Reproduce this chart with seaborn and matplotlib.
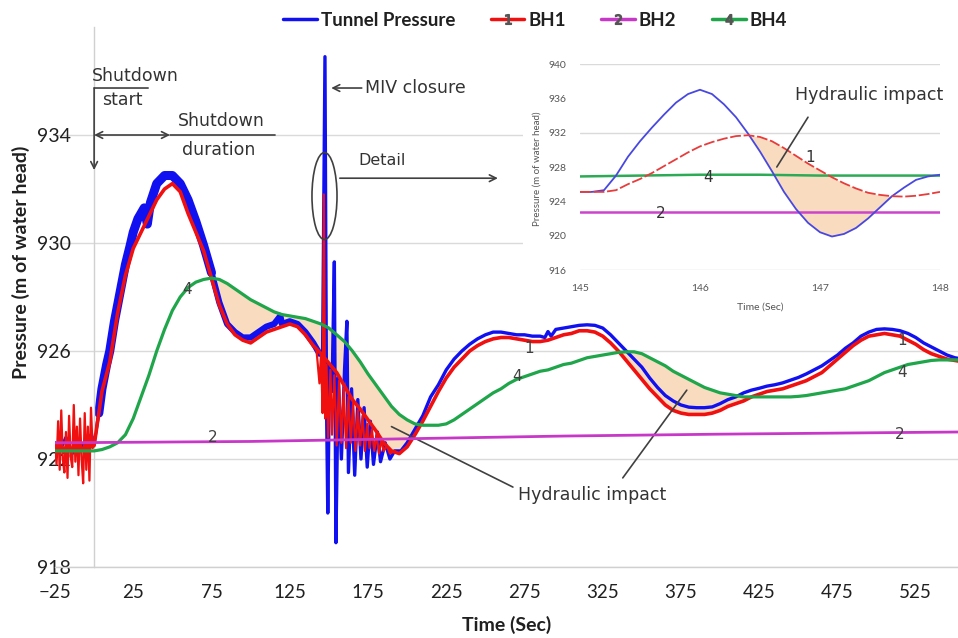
import numpy as np
import matplotlib
matplotlib.use("Agg")
import matplotlib.pyplot as plt
from matplotlib.lines import Line2D
from matplotlib.patches import Ellipse, Rectangle
import seaborn as sns

# ---- data ------------------------------------------------------------------
# common 5 s time base for the smooth borehole traces
t_grid = list(range(-25, 560, 5))

bh1 = [922.4, 922.4, 922.4, 922.4, 922.4, 922.5, 924.5, 925.6, 927.4, 928.8,
       929.8, 930.4, 931.0, 931.6, 932.0, 932.2, 931.9, 931.1, 930.4, 929.7,
       928.7, 927.7, 927.0, 926.6, 926.4, 926.3, 926.5, 926.7, 926.8, 926.9,
       927.0, 926.9, 926.6, 926.2, 925.9, 925.55, 925.2, 924.7, 924.2, 923.85,
       923.45, 923.05, 922.6, 922.3, 922.2, 922.45, 922.9, 923.4, 923.95, 924.5,
       925.0, 925.4, 925.7, 926.0, 926.2, 926.35, 926.45, 926.5, 926.5, 926.45,
       926.4, 926.35, 926.35, 926.4, 926.5, 926.6, 926.65, 926.75, 926.75, 926.7,
       926.55, 926.3, 926.0, 925.65, 925.3, 924.95, 924.6, 924.3, 924.0, 923.8,
       923.7, 923.65, 923.65, 923.65, 923.7, 923.8, 923.95, 924.05, 924.15, 924.3,
       924.4, 924.5, 924.55, 924.6, 924.7, 924.8, 924.9, 925.05, 925.2, 925.45,
       925.7, 925.95, 926.2, 926.4, 926.55, 926.6, 926.65, 926.6, 926.55, 926.4,
       926.25, 926.05, 925.9, 925.8, 925.7, 925.65, 925.6]

bh4 = [922.3, 922.3, 922.3, 922.3, 922.3, 922.3, 922.35, 922.45, 922.6, 922.9,
       923.5, 924.3, 925.1, 926.0, 926.8, 927.5, 928.0, 928.35, 928.55, 928.65,
       928.7, 928.65, 928.5, 928.3, 928.1, 927.9, 927.75, 927.6, 927.45, 927.35,
       927.3, 927.25, 927.2, 927.1, 927.0, 926.85, 926.6, 926.35, 926.0, 925.6,
       925.15, 924.75, 924.35, 923.95, 923.65, 923.45, 923.3, 923.25, 923.25, 923.25,
       923.3, 923.45, 923.65, 923.85, 924.05, 924.25, 924.45, 924.6, 924.8, 924.95,
       925.05, 925.15, 925.25, 925.3, 925.4, 925.5, 925.55, 925.65, 925.75, 925.8,
       925.85, 925.9, 925.95, 925.97, 925.97, 925.9, 925.75, 925.6, 925.45, 925.25,
       925.1, 924.95, 924.8, 924.65, 924.55, 924.45, 924.4, 924.35, 924.3, 924.3,
       924.3, 924.3, 924.3, 924.3, 924.3, 924.32, 924.35, 924.4, 924.45, 924.5,
       924.55, 924.6, 924.7, 924.8, 924.9, 925.05, 925.2, 925.3, 925.4, 925.5,
       925.55, 925.6, 925.65, 925.67, 925.67, 925.67, 925.67]

bh2 = [(-25, 922.6), (100, 922.65), (200, 922.75), (300, 922.85), (400, 922.92), (552, 923.0)]

# red scatter before shutdown and after the MIV closure
bh1_noise_pre = [(-25, 922.6), (-24, 921.8), (-23, 923.4), (-22, 921.6), (-21, 923.8), (-20, 922.0),
                 (-19, 921.5), (-18, 923.0), (-17, 921.3), (-16, 923.6), (-15, 922.1), (-14, 921.7),
                 (-13, 924.0), (-12, 921.9), (-11, 923.2), (-10, 921.4), (-9, 923.5), (-8, 922.0),
                 (-7, 921.1), (-6, 923.7), (-5, 921.6), (-4, 923.2), (-3, 921.2), (-2, 923.9),
                 (-1, 922.4), (0, 922.5)]
bh1_noise_miv = [(142, 926.1), (144, 924.8), (145, 925.9), (146, 923.7), (146.8, 931.8), (147.6, 923.5),
                 (148.5, 925.5), (149.5, 922.8), (151, 925.3), (152, 922.9), (153.5, 925.1), (155, 922.5),
                 (156.5, 924.9), (158, 922.6), (159.5, 924.6), (161, 922.4), (162.5, 924.3), (164, 922.6),
                 (165.5, 924.1), (167, 922.3), (168.5, 923.8), (170, 922.5), (171.5, 923.6), (173, 922.3),
                 (174.5, 923.3), (176, 922.4), (177.5, 923.1), (179, 922.3), (180.5, 922.9), (182, 922.2),
                 (183.5, 922.7), (185, 922.3), (187, 922.5), (189, 922.2), (192, 922.3)]

tunnel = [(-25, 922.6), (-22, 922.3), (-18, 922.8), (-14, 922.2), (-10, 922.7), (-6, 922.3),
          (-2, 922.9), (0, 922.6), (3, 923.7), (5, 924.6), (8, 925.5), (10, 926.0), (13, 927.1),
          (15, 927.7), (18, 928.6), (20, 929.2), (23, 929.9), (25, 930.4), (28, 930.9), (30, 931.1),
          (32, 931.3), (34, 930.7), (36, 931.5), (40, 932.2), (45, 932.5), (50, 932.5), (55, 932.2),
          (60, 931.6), (65, 930.8), (70, 929.9), (75, 928.9), (80, 927.8), (85, 927.0), (90, 926.7),
          (95, 926.5), (100, 926.5), (105, 926.7), (110, 926.9), (115, 927.0), (119, 927.3),
          (120, 927.0), (125, 927.1), (130, 927.0), (135, 926.7), (140, 926.3), (144, 925.9),
          (146, 926.0), (147.5, 936.9), (148.5, 924.0), (149.3, 920.0), (150.5, 925.5), (152, 924.5),
          (153.5, 929.3), (154.5, 918.9), (156, 925.0), (158, 922.0), (160, 925.3), (161.5, 927.1),
          (162.5, 921.5), (164.5, 924.6), (166.5, 921.4), (168.5, 924.2), (170.5, 922.0),
          (172.5, 923.9), (174.5, 921.7), (176.5, 923.4), (178.5, 921.8), (181, 923.0), (183, 921.9),
          (186, 922.6), (189, 922.0), (192, 922.3), (196, 922.3), (200, 922.6), (205, 923.1),
          (210, 923.6), (215, 924.3), (220, 924.75), (225, 925.3), (230, 925.7), (235, 926.0),
          (240, 926.25), (245, 926.45), (250, 926.6), (255, 926.7), (260, 926.7), (265, 926.65),
          (270, 926.6), (275, 926.6), (280, 926.55), (285, 926.55), (288, 926.5), (290, 926.72),
          (292, 926.55), (295, 926.8), (300, 926.85), (305, 926.9), (310, 926.95), (315, 926.97),
          (320, 926.95), (325, 926.85), (330, 926.6), (335, 926.3), (340, 926.0), (345, 925.7),
          (350, 925.4), (355, 925.0), (360, 924.65), (365, 924.35), (370, 924.15), (375, 924.0),
          (380, 923.92), (385, 923.9), (390, 923.9), (395, 923.93), (400, 924.05), (405, 924.2),
          (410, 924.3), (415, 924.45), (420, 924.55), (425, 924.62), (430, 924.7), (435, 924.75),
          (440, 924.82), (445, 924.92), (450, 925.02), (455, 925.15), (460, 925.3), (465, 925.45),
          (470, 925.65), (475, 925.85), (480, 926.1), (485, 926.3), (490, 926.55), (495, 926.7),
          (500, 926.8), (505, 926.82), (510, 926.8), (515, 926.75), (520, 926.65), (525, 926.5),
          (530, 926.3), (535, 926.15), (540, 926.0), (545, 925.85), (550, 925.75), (555, 925.7)]

# detail window 145-148 s
inset_t = np.round(np.arange(145.0, 148.05, 0.1), 1)
inset_tunnel = [925.1, 925.1, 925.3, 927.0, 929.2, 931.0, 932.6, 934.1, 935.5, 936.5,
                937.0, 936.5, 935.3, 933.8, 931.9, 929.8, 927.5, 925.1, 923.1, 921.5,
                920.4, 919.9, 920.2, 920.9, 922.0, 923.3, 924.6, 925.6, 926.5, 926.9, 927.1]
inset_bh1 = [925.1, 925.1, 925.1, 925.3, 926.0, 926.6, 927.3, 928.1, 928.9, 929.7,
             930.4, 930.9, 931.3, 931.6, 931.7, 931.5, 931.0, 930.2, 929.3, 928.4,
             927.6, 926.8, 926.1, 925.5, 925.0, 924.75, 924.6, 924.55, 924.65, 924.85, 925.1]
inset_bh4 = [(145, 926.9), (145.5, 927.0), (146, 927.1), (146.5, 927.1), (147, 927.0), (148, 927.0)]
inset_bh2 = [(145, 922.7), (148, 922.7)]

x_ticks = [-25, 25, 75, 125, 175, 225, 275, 325, 375, 425, 475, 525]
y_ticks = [918, 922, 926, 930, 934]
inset_yticks = [916, 920, 924, 928, 932, 936, 940]
legend_labels = ["Tunnel Pressure", "BH1", "BH2", "BH4"]

BLUE = "#1010F0"
RED = "#F01010"
MAGENTA = "#C838C8"
GREEN = "#1FA54A"
PEACH = "#F9DCC0"
INK = "#404040"

# ---- figure ------------------------------------------------------------------
sns.set_theme(style="white")
plt.rcParams["font.family"] = ["Lato", "DejaVu Sans"]

fig = plt.figure(figsize=(9.58, 6.38), dpi=100)
ax = fig.add_axes([55 / 958, 71 / 638, 903 / 958, 540 / 638])

bh1_arr = np.array(bh1)
bh4_arr = np.array(bh4)
ax.fill_between(t_grid, bh1_arr, bh4_arr, where=bh4_arr > bh1_arr, interpolate=True,
                color=PEACH, lw=0, zorder=1)

# tunnel trace: fuzzy (noisy) band during the rundown, thinner line elsewhere
tp_t, tp_v = map(np.array, zip(*tunnel))
rise = (tp_t >= 3) & (tp_t <= 75)
flat = (tp_t >= 75) & (tp_t <= 144)
sns.lineplot(x=tp_t[rise], y=tp_v[rise], ax=ax, color=BLUE, lw=6.5, estimator=None, sort=False, zorder=2)
sns.lineplot(x=tp_t[flat], y=tp_v[flat], ax=ax, color=BLUE, lw=4.5, estimator=None, sort=False, zorder=2)
sns.lineplot(x=tp_t, y=tp_v, ax=ax, color=BLUE, lw=2.4, estimator=None, sort=False, zorder=2)

sns.lineplot(x=t_grid, y=bh1, ax=ax, color=RED, lw=2.6, estimator=None, sort=False, zorder=3)
for seg in (bh1_noise_pre, bh1_noise_miv):
    n_t, n_v = zip(*seg)
    sns.lineplot(x=list(n_t), y=list(n_v), ax=ax, color=RED, lw=1.6, estimator=None, sort=False, zorder=3)

sns.lineplot(x=t_grid, y=bh4, ax=ax, color=GREEN, lw=2.3, estimator=None, sort=False, zorder=4)
b2_t, b2_v = zip(*bh2)
sns.lineplot(x=list(b2_t), y=list(b2_v), ax=ax, color=MAGENTA, lw=2.0, estimator=None, sort=False, zorder=5)

ax.set_xlim(-25, 552)
ax.set_ylim(918, 938)
ax.set_xticks(x_ticks)
ax.set_yticks(y_ticks)
ax.spines["left"].set_position(("data", 0))
for s in ["top", "right"]:
    ax.spines[s].set_visible(False)
for s in ["left", "bottom"]:
    ax.spines[s].set_color("#D0D0D0")
    ax.spines[s].set_linewidth(1)
ax.yaxis.grid(True, color="#DADADA", lw=1)
ax.set_axisbelow(True)
ax.tick_params(axis="y", length=0, pad=17, labelsize=14, labelcolor="#202020")
ax.tick_params(axis="x", length=0, pad=12, labelsize=13.5, labelcolor="#202020")

ax.set_xlabel("Time (Sec)", fontsize=14, fontweight="bold", color="#202020")
ax.xaxis.set_label_coords(0.5, -0.107)
ax.xaxis.label.set_verticalalignment("center")
ax.set_ylabel("Pressure (m of water head)", fontsize=14, fontweight="bold", color="#202020")
ax.yaxis.set_label_coords(-0.0377, 0.565)
ax.yaxis.label.set_verticalalignment("center")

# curve labels
for tx, ty, lab in [(278, 926.1, "1"), (516, 926.4, "1"), (76, 922.78, "2"), (515, 922.9, "2"),
                    (59.5, 928.26, "4"), (270, 925.04, "4"), (516.5, 925.2, "4")]:
    ax.text(tx, ty, lab, fontsize=11, color=INK, ha="center", va="center", family="DejaVu Sans", zorder=6)

# annotations
note = dict(fontsize=12.5, color="#333333", family="DejaVu Sans", va="center", ha="left")
arr = dict(color=INK, lw=1.2, shrinkA=0, shrinkB=0)
ax.text(-1.3, 936.2, "Shutdown", **note)
ax.text(5, 935.3, "start", **note)
ax.annotate("", xy=(34.5, 935.74), xytext=(0, 935.74), arrowprops=dict(arrowstyle="-", **arr))
ax.annotate("", xy=(0, 932.7), xytext=(0, 935.74), arrowprops=dict(arrowstyle="->", **arr))
ax.annotate("", xy=(48.5, 934.0), xytext=(0, 934.0), arrowprops=dict(arrowstyle="<->", **arr))
ax.annotate("", xy=(115.6, 934.0), xytext=(48.5, 934.0), arrowprops=dict(arrowstyle="-", **arr))
ax.text(53.6, 934.52, "Shutdown", **note)
ax.text(56.2, 933.44, "duration", **note)
ax.annotate("", xy=(151.5, 935.74), xytext=(171, 935.74), arrowprops=dict(arrowstyle="->", **arr))
ax.text(173, 935.74, "MIV closure", **note)
ax.add_patch(Ellipse((147.2, 931.74), 16, 3.22, fill=False, edgecolor=INK, lw=1.2, zorder=6))
ax.text(168.6, 933.04, "Detail", **{**note, "fontsize": 11.5})
ax.annotate("", xy=(258, 932.4), xytext=(157, 932.4), arrowprops=dict(arrowstyle="->", **arr))
ax.text(270.7, 920.67, "Hydraulic impact", **note)
ax.annotate("", xy=(190, 923.2), xytext=(267.6, 920.96), arrowprops=dict(arrowstyle="-", **arr))
ax.annotate("", xy=(378.7, 924.55), xytext=(337.8, 921.3), arrowprops=dict(arrowstyle="-", **arr))

# legend
handles = [Line2D([], [], color=BLUE, lw=2.5),
           Line2D([], [], color=RED, lw=2.5, marker="$1$", ms=7, mfc="#555555", mec="#555555"),
           Line2D([], [], color=MAGENTA, lw=2.5, marker="$2$", ms=7, mfc="#555555", mec="#555555"),
           Line2D([], [], color=GREEN, lw=2.5, marker="$4$", ms=7, mfc="#555555", mec="#555555")]
fig.legend(handles, legend_labels, loc="center", bbox_to_anchor=(535 / 958, 1 - 20 / 638), ncol=4,
           frameon=False, prop=dict(size=13.5, weight="bold"), handlelength=1.8,
           handletextpad=0.2, columnspacing=1.9, labelcolor="#202020")

# ---- detail inset ------------------------------------------------------------
fig.add_artist(Rectangle((523 / 958, 1 - 318 / 638), 435 / 958, 273 / 638, transform=fig.transFigure,
                         facecolor="white", edgecolor="none", zorder=1))
axi = fig.add_axes([580 / 958, 1 - 270 / 638, 360 / 958, 206 / 638], zorder=2)
axi.set_facecolor("white")
ib = np.array(inset_bh1)
it = np.array(inset_tunnel)
axi.fill_between(inset_t, ib, it, where=ib > it, interpolate=True, color=PEACH, lw=0, zorder=1)
sns.lineplot(x=inset_t, y=inset_tunnel, ax=axi, color="#4848E0", lw=1.3, estimator=None, sort=False, zorder=3)
sns.lineplot(x=inset_t, y=inset_bh1, ax=axi, color="#E83C3C", lw=1.3, ls=(0, (6, 1.5)),
             estimator=None, sort=False, zorder=3)
g_t, g_v = zip(*inset_bh4)
sns.lineplot(x=list(g_t), y=list(g_v), ax=axi, color="#2DAA55", lw=1.8, estimator=None, sort=False, zorder=2)
m_t, m_v = zip(*inset_bh2)
sns.lineplot(x=list(m_t), y=list(m_v), ax=axi, color="#CC44CC", lw=1.8, estimator=None, sort=False, zorder=2)
for gy in [916, 932, 940]:
    axi.axhline(gy, color="#DADADA", lw=1, zorder=0)
axi.set_xlim(145, 148)
axi.set_ylim(916, 940)
axi.set_xticks([145, 146, 147, 148])
axi.set_yticks(inset_yticks)
for s in axi.spines.values():
    s.set_visible(False)
axi.tick_params(length=0, labelsize=7.5, labelcolor="#555555", pad=10)
axi.set_xlabel("Time (Sec)", fontsize=7.5, color="#555555")
axi.xaxis.set_label_coords(0.5, -0.18)
axi.xaxis.label.set_verticalalignment("center")
axi.set_ylabel("Pressure (m of water head)", fontsize=7, color="#555555")
axi.yaxis.set_label_coords(-0.12, 0.49)
axi.yaxis.label.set_verticalalignment("center")

inote = dict(color="#333333", family="DejaVu Sans", va="center")
axi.text(146.79, 936.4, "Hydraulic impact", fontsize=12.5, ha="left", **inote)
axi.annotate("", xy=(146.64, 928.0), xytext=(146.9, 933.8), arrowprops=dict(arrowstyle="-", **arr))
axi.text(146.92, 929.05, "1", fontsize=11, ha="center", **inote)
axi.text(146.07, 926.8, "4", fontsize=11, ha="center", **inote)
axi.text(145.67, 922.6, "2", fontsize=11, ha="center", **inote)

fig.savefig("out.png", dpi=100)
